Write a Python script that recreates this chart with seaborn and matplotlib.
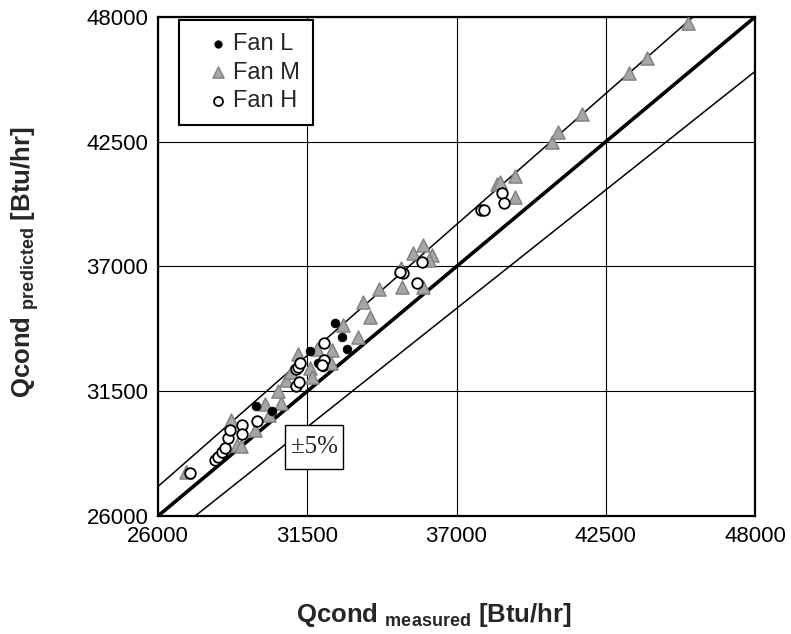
import matplotlib
matplotlib.use('Agg')
import matplotlib.pyplot as plt
import seaborn as sns
import numpy as np
from matplotlib.ticker import MultipleLocator
from matplotlib.patches import Rectangle

# ---- data ----
fan_L_x = [29610, 30200, 31600, 31900, 32080, 32540, 32780, 32970]
fan_L_y = [30850, 30630, 33280, 32750, 32570, 34530, 33910, 33360]

fan_M_x = [27030, 28910, 29060, 28690, 29570, 29940, 30090, 30530, 30440, 30720,
           30900, 31160, 31600, 31690, 31860, 32380, 32410, 32820, 33370, 33810,
           33550, 34140, 34990, 34960, 35400, 35770, 36100, 35990, 35770, 38490,
           38600, 39160, 39160, 40520, 40740, 41620, 43360, 44020, 45530]
fan_M_y = [27940, 29130, 29090, 30230, 29790, 30940, 30450, 30980, 31510, 32000,
           32350, 33140, 32530, 32110, 33360, 32750, 33320, 34440, 33870, 34770,
           35440, 36010, 36100, 36930, 37600, 37950, 37510, 37290, 36100, 40640,
           40730, 40990, 40070, 42490, 42930, 43720, 45530, 46190, 47740]

fan_H_x = [27180, 28100, 28210, 28360, 28470, 28580, 28650, 29080, 29100, 29630,
           31100, 31200, 31090, 31160, 31230, 32120, 32040, 32100, 35030, 34920,
           35730, 35540, 38680, 38750, 37900, 38010]
fan_H_y = [27900, 28470, 28620, 28820, 29000, 29440, 29770, 30030, 29620, 30210,
           31710, 31910, 32460, 32570, 32750, 32880, 32660, 33630, 36710, 36760,
           37200, 36270, 40240, 39800, 39490, 39490]

ticks = [26000, 31500, 37000, 42500, 48000]
band_factors = [0.95, 1.05]
series_labels = ['Fan L', 'Fan M', 'Fan H']
band_text = '±5%'

# ---- style ----
sns.set_style('white')
plt.rcParams['font.family'] = ['Liberation Sans', 'DejaVu Sans']
plt.rcParams['mathtext.fontset'] = 'custom'
plt.rcParams['mathtext.rm'] = 'Liberation Sans'
plt.rcParams['mathtext.bf'] = 'Liberation Sans:bold'

W, H = 791, 634
fig = plt.figure(figsize=(W / 100, H / 100), dpi=100)
L, R, T, B = 158, 755, 17, 516
ax = fig.add_axes([L / W, 1 - B / H, (R - L) / W, (B - T) / H])

lo, hi = ticks[0], ticks[-1]
ax.set_xlim(lo, hi)
ax.set_ylim(lo, hi)
ax.set_xticks(ticks)
ax.set_yticks(ticks)
ax.set_xticklabels([str(t) for t in ticks])
ax.set_yticklabels([str(t) for t in ticks])
ax.xaxis.set_minor_locator(MultipleLocator(1100))
ax.yaxis.set_minor_locator(MultipleLocator(1100))
ax.grid(True, which='major', color='black', lw=0.8)
ax.grid(False, which='minor')
ax.set_axisbelow(True)

# 1:1 and +-5% lines
xs = np.array([lo, hi], dtype=float)
ax.plot(xs, xs, color='black', lw=2.6, zorder=2)
for f in band_factors:
    ax.plot(xs, f * xs, color='black', lw=1.1, zorder=2)

# scatter series
sns.scatterplot(x=fan_M_x, y=fan_M_y, marker='^', s=90, color='#a6a6a6',
                edgecolor='#808080', linewidth=1, label=series_labels[1], ax=ax, zorder=3)
sns.scatterplot(x=fan_L_x, y=fan_L_y, marker='o', s=40, color='black',
                edgecolor='black', linewidth=0.5, label=series_labels[0], ax=ax, zorder=4)
sns.scatterplot(x=fan_H_x, y=fan_H_y, marker='o', s=58, color='white',
                edgecolor='black', linewidth=1.3, label=series_labels[2], ax=ax, zorder=5)

h, l = ax.get_legend_handles_labels()
hmap = dict(zip(l, h))
leg = ax.legend([hmap[s] for s in series_labels], series_labels,
                loc='upper left', bbox_to_anchor=((179 - L) / (R - L), (B - 20) / (B - T)),
                borderaxespad=0, fontsize=17, frameon=True, fancybox=False,
                edgecolor='black', framealpha=1, handlelength=2.2, handletextpad=-0.47,
                labelspacing=0.28, borderpad=0.55, scatterpoints=1, markerscale=0.85)
leg.get_frame().set_linewidth(1.5)
leg.set_zorder(10)

# ticks & spines
ax.tick_params(which='major', direction='out', length=4, width=1.2, labelsize=16,
               pad=3, colors='black')
ax.tick_params(which='minor', direction='in', length=5, width=1, colors='black')
for s in ax.spines.values():
    s.set_color('black')
    s.set_linewidth(1.6)
ax.set_xlabel('')
ax.set_ylabel('')

# +-5% label box
bx0, bx1, by0, by1 = 285, 343, 425, 469
ax.add_patch(Rectangle(((bx0 - L) / (R - L), (B - by1) / (B - T)),
                       (bx1 - bx0) / (R - L), (by1 - by0) / (B - T),
                       transform=ax.transAxes, facecolor='white', edgecolor='black',
                       lw=1, zorder=6))
ax.text(((bx0 + bx1) / 2 - L) / (R - L), (B - (by0 + by1) / 2) / (B - T), band_text,
        transform=ax.transAxes, ha='center', va='center', fontsize=18,
        family='Liberation Serif', zorder=7)

# axis titles
fig.text(434 / W, 1 - 615 / H, r'Qcond $_{\mathbf{measured}}$ [Btu/hr]',
         fontsize=18.5, fontweight='bold', ha='center', va='center')
fig.text(25 / W, 1 - 262 / H, r'Qcond $_{\mathbf{predicted}}$ [Btu/hr]',
         fontsize=18.5, fontweight='bold', rotation=90, ha='center', va='center')

fig.savefig('out.png', dpi=100)
